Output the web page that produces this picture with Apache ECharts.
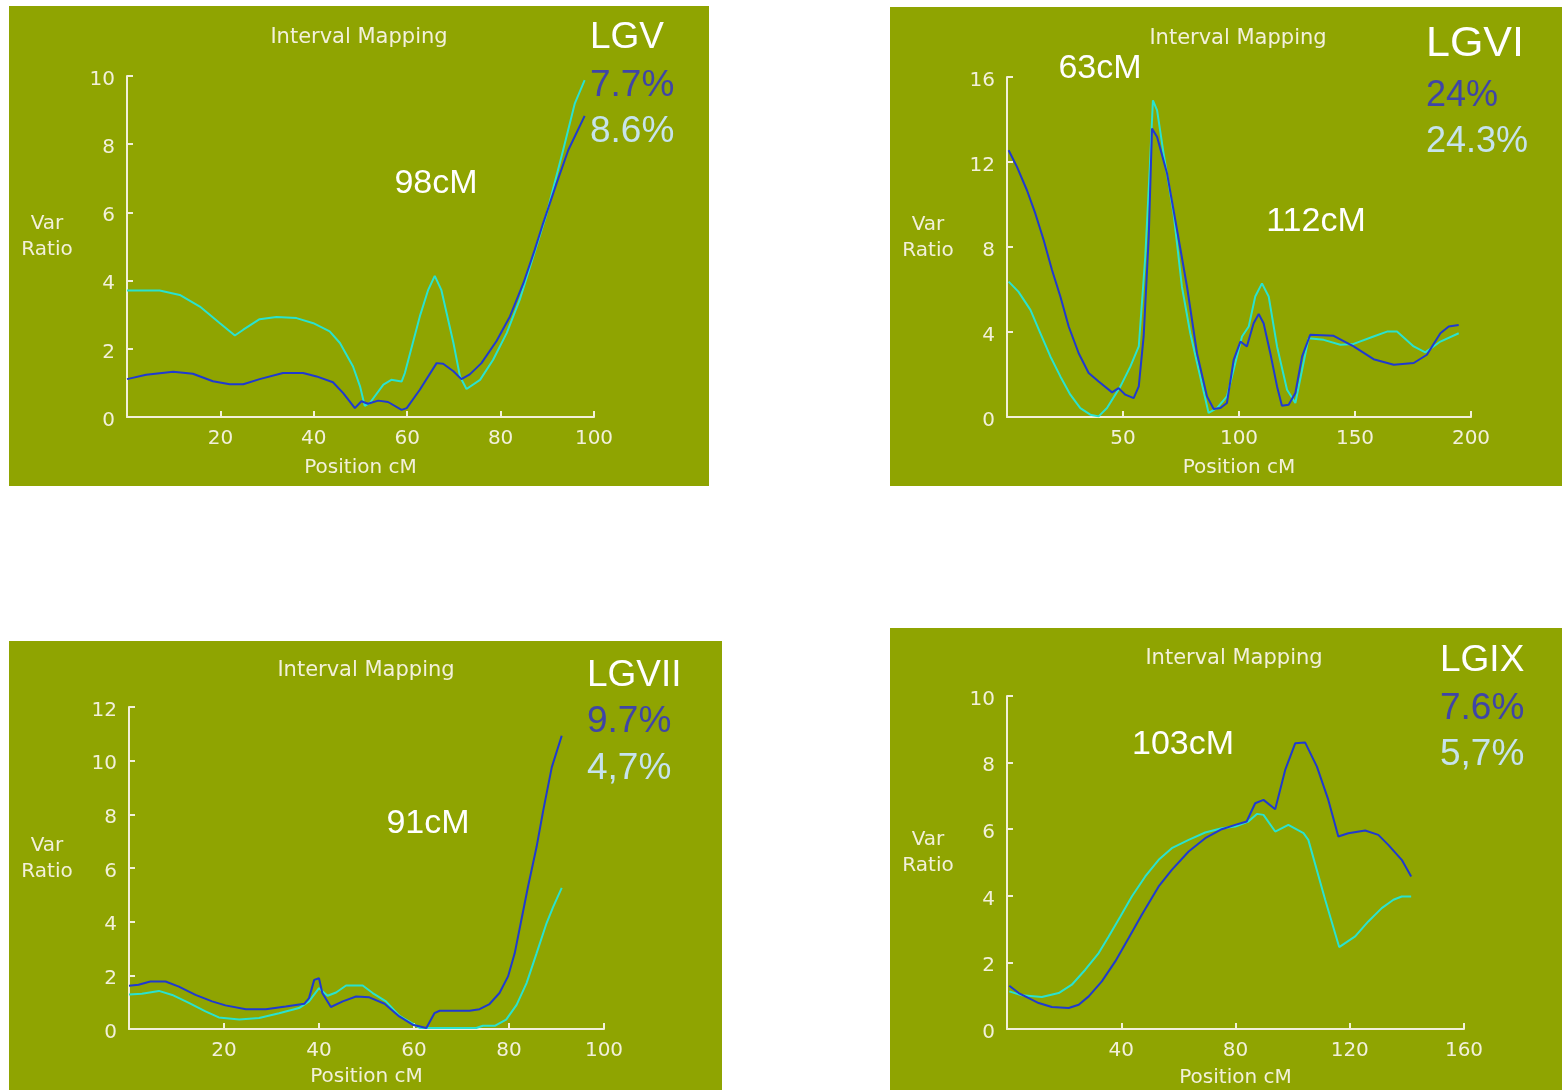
<!DOCTYPE html>
<html>
<head>
<meta charset="utf-8">
<script src="https://cdn.jsdelivr.net/npm/echarts@6/dist/echarts.min.js"></script>
<style>
  html, body { margin: 0; padding: 0; background: #ffffff; }
  #chart { width: 1562px; height: 1090px; }
</style>
</head>
<body>
<div id="chart"></div>
<script>
// Interval mapping scans for four linkage groups: [position cM, variance ratio]
const lgvBlue = [[0,1.11],[4.1,1.24],[9.9,1.33],[14.1,1.27],[18.4,1.05],[22,0.96],[24.9,0.96],[28.4,1.11],[33.4,1.29],[37.7,1.29],[40.6,1.19],[44.1,1.02],[46.3,0.70],[48.8,0.26],[50.2,0.46],[51.6,0.39],[53.8,0.48],[55.9,0.44],[58.8,0.21],[59.9,0.26],[62.7,0.80],[66.3,1.58],[67.7,1.56],[69.9,1.34],[71.6,1.11],[73.4,1.25],[75.9,1.58],[79.1,2.22],[82,2.95],[84.9,3.93],[87.3,4.90],[89.1,5.68],[92,6.86],[94.5,7.83],[98,8.83]];
const lgvCyan = [[0,3.71],[7,3.71],[11.3,3.58],[15.6,3.24],[19.9,2.75],[23.1,2.39],[24.9,2.56],[28.4,2.87],[32,2.93],[36.3,2.90],[39.9,2.75],[43.4,2.51],[45.6,2.17],[48.4,1.48],[49.9,0.90],[50.9,0.33],[52,0.41],[54.9,0.95],[56.6,1.09],[58.8,1.04],[59.5,1.29],[62.7,2.95],[64.5,3.73],[65.9,4.14],[67.3,3.73],[69.9,2.17],[71.3,1.19],[72.7,0.82],[75.6,1.09],[78.4,1.68],[81.3,2.46],[84.1,3.44],[87,4.71],[89.9,5.98],[93.4,7.83],[95.9,9.20],[98,9.88]];

const lgviBlue = [[0.7,12.55],[4.3,11.77],[8.6,10.67],[12.2,9.58],[15.8,8.33],[19.4,6.92],[23,5.67],[26.6,4.26],[30.9,3.00],[35.2,2.07],[39.5,1.67],[45.3,1.16],[48.1,1.36],[51,1.05],[54.6,0.89],[56.8,1.44],[58.9,3.79],[61.1,8.48],[62.5,13.57],[64.7,13.18],[69,11.46],[73.3,8.80],[77.6,6.13],[81.9,3.00],[86.2,0.97],[89.1,0.38],[92,0.42],[94.8,0.66],[97.7,2.69],[100.6,3.55],[103.4,3.32],[106.3,4.41],[108.5,4.85],[110.6,4.41],[113.5,3.00],[116.4,1.44],[118.5,0.53],[121.4,0.58],[124.3,1.13],[127.2,2.85],[130.7,3.87],[140.8,3.82],[149.4,3.32],[158,2.72],[166.7,2.46],[175.3,2.54],[181,2.93],[186.8,3.94],[190.4,4.26],[194.7,4.33]];
const lgviCyan = [[0.7,6.37],[4.9,5.90],[10.1,5.04],[14.4,3.94],[18.7,2.85],[23,1.91],[27.3,1.05],[31.6,0.42],[35.9,0.11],[39.5,0.03],[43.1,0.42],[48.9,1.44],[53.2,2.38],[56.8,3.32],[59.6,7.54],[61.5,11.61],[62.9,14.90],[64.7,14.43],[67.5,12.39],[71.8,9.58],[75.4,6.13],[79,3.94],[82.6,2.22],[86.9,0.19],[90.5,0.42],[94.8,0.97],[98.4,2.54],[101.3,3.79],[104.2,4.26],[107,5.67],[109.9,6.29],[112.8,5.67],[116.4,3.32],[120.7,1.28],[124.3,0.66],[127.2,2.22],[130,3.71],[136.5,3.63],[143.7,3.40],[149.4,3.44],[158,3.79],[163.8,4.02],[168.1,4.02],[175.3,3.32],[180.3,3.04],[186.8,3.55],[194.7,3.94]];

const lgviiBlue = [[0,1.61],[2,1.65],[4.5,1.77],[7.7,1.77],[10.5,1.58],[14,1.27],[17.5,1.03],[20.3,0.88],[24.6,0.74],[28.8,0.74],[33,0.84],[36.9,0.94],[37.9,1.15],[39,1.83],[40,1.89],[40.7,1.34],[42.5,0.82],[45,1.03],[47.8,1.21],[50.6,1.18],[53.8,0.94],[56.9,0.47],[59.7,0.16],[62.6,0.04],[64.3,0.59],[65.4,0.68],[71.7,0.68],[73.8,0.74],[75.9,0.93],[78,1.34],[79.8,1.96],[81.2,2.82],[82.6,4.06],[84,5.30],[85.8,6.78],[87.2,8.14],[89,9.75],[91.1,10.93]];
const lgviiCyan = [[0,1.29],[2.7,1.31],[6.3,1.42],[9.1,1.27],[12.6,0.97],[16.1,0.66],[18.9,0.43],[23.2,0.35],[27.4,0.41],[31.6,0.59],[35.8,0.78],[37.9,1.03],[40,1.52],[41.8,1.24],[43.6,1.36],[45.7,1.62],[49.2,1.62],[51.3,1.34],[54.1,1.03],[56.9,0.50],[59.7,0.20],[61.2,0.04],[73.1,0.04],[74.5,0.12],[77,0.12],[79.4,0.35],[81.6,0.90],[83.7,1.71],[85.8,2.82],[87.9,3.94],[89.3,4.55],[91.1,5.26]];

const lgixBlue = [[0.8,1.30],[4.1,1.08],[7.6,0.93],[11.1,0.78],[15.7,0.66],[21.6,0.63],[25.1,0.73],[28.6,0.98],[33.2,1.43],[37.9,2.03],[42.6,2.73],[47.2,3.43],[53.1,4.28],[57.7,4.78],[63.6,5.33],[69.4,5.73],[75.2,6.00],[79.9,6.13],[83.9,6.23],[86.9,6.78],[89.8,6.88],[93.9,6.60],[97.4,7.78],[100.9,8.58],[104.4,8.60],[108.5,7.88],[112.5,6.88],[116,5.78],[119.5,5.88],[125.4,5.96],[130,5.83],[133.5,5.53],[138.2,5.08],[141.5,4.58]];
const lgixCyan = [[0.8,1.13],[5.2,1.01],[12.2,0.96],[18.1,1.08],[22.7,1.33],[27.4,1.78],[32.1,2.28],[35.6,2.78],[39.7,3.38],[43.7,3.98],[48.4,4.58],[53.1,5.08],[57.7,5.43],[63.6,5.68],[69.4,5.90],[75.2,6.03],[79.9,6.08],[84.5,6.23],[87.5,6.46],[89.8,6.43],[93.9,5.93],[98.5,6.13],[103.8,5.88],[105.5,5.68],[111.4,3.88],[116.3,2.46],[121.9,2.78],[126.5,3.23],[131.2,3.63],[135.3,3.88],[138.2,3.98],[141.5,3.98]];

// Axis ranges per panel: [xMax, xStep, yMax, yStep]
const lgvAxes = [100, 20, 10, 2];
const lgviAxes = [200, 50, 16, 4];
const lgviiAxes = [100, 20, 12, 2];
const lgixAxes = [160, 40, 10, 2];

// Panel annotations
const panelTitle = 'Interval Mapping';
const yAxisTitle = 'Var\nRatio';
const xAxisTitle = 'Position cM';
const groupNames = ['LGV', 'LGVI', 'LGVII', 'LGIX'];
const blueShares = ['7.7%', '24%', '9.7%', '7.6%'];
const cyanShares = ['8.6%', '24.3%', '4,7%', '5,7%'];

const OLIVE = '#8fa401';
const AXIS = '#f2f0da';
const BLUE = '#1f3ad0';
const CYAN = '#2ae2cf';
const PCT_DARK = '#3f45a7';
const PCT_LIGHT = '#c6e3ec';
const TICK_FONT = 'DejaVu Sans';
const BIG_FONT = 'Liberation Sans';

// Panel frames and plot areas
const panels = [
  { bg: [9, 6, 700, 480],   grid: { left: 127, top: 76, width: 467, height: 341 },  axes: lgvAxes,  gapX: 51 },
  { bg: [890, 7, 672, 479], grid: { left: 1007, top: 77, width: 464, height: 340 }, axes: lgviAxes, gapX: 51 },
  { bg: [9, 641, 713, 449], grid: { left: 129, top: 707, width: 475, height: 322 }, axes: lgviiAxes, gapX: 48 },
  { bg: [890, 628, 672, 462], grid: { left: 1007, top: 696, width: 457, height: 333 }, axes: lgixAxes, gapX: 49 }
];
const seriesData = [[lgvBlue, lgvCyan], [lgviBlue, lgviCyan], [lgviiBlue, lgviiCyan], [lgixBlue, lgixCyan]];

const axisStyle = {
  axisLine: { show: true, onZero: false, lineStyle: { color: AXIS, width: 2 } },
  axisTick: { show: true, inside: true, length: 6, lineStyle: { color: AXIS, width: 2 } },
  splitLine: { show: false }
};

const grids = [], xAxes = [], yAxes = [], series = [];
panels.forEach((p, i) => {
  grids.push(Object.assign({ containLabel: false }, p.grid));
  const [xMax, xStep, yMax, yStep] = p.axes;
  xAxes.push(Object.assign({
    gridIndex: i, type: 'value', min: 0, max: xMax, interval: xStep,
    name: xAxisTitle, nameLocation: 'middle', nameGap: p.gapX,
    nameTextStyle: { color: AXIS, fontFamily: TICK_FONT, fontSize: 20, verticalAlign: 'middle' },
    axisLabel: { color: AXIS, fontFamily: TICK_FONT, fontSize: 20, margin: 12, showMinLabel: false }
  }, axisStyle));
  yAxes.push(Object.assign({
    gridIndex: i, type: 'value', min: 0, max: yMax, interval: yStep,
    // a short line box hung from the tick sets each number slightly below its tick
    axisLabel: { color: AXIS, fontFamily: TICK_FONT, fontSize: 20, margin: 12, verticalAlign: 'top', lineHeight: 7 }
  }, axisStyle));
  [BLUE, CYAN].forEach((c, k) => {
    series.push({
      type: 'line', xAxisIndex: i, yAxisIndex: i, data: seriesData[i][k],
      showSymbol: false, smooth: false, z: k === 0 ? 3 : 2,
      lineStyle: { color: c, width: 2 }, itemStyle: { color: c }
    });
  });
});

// Text placement per panel
const titlePos = [[359, 38], [1238, 39], [366, 671], [1234, 659]];
const yTitlePos = [[47, 237], [928, 238], [47, 859], [928, 853]];
const groupPos = [[590, 38, 37], [1426, 44, 43], [587, 676, 37], [1440, 661, 37]];
const sharePos = [[590, 86, 132, 37], [1426, 96, 142, 36], [587, 722, 769, 37], [1440, 709, 755, 37]];
const markerText = [['98cM', 436, 184], ['63cM', 1100, 69], ['112cM', 1316, 222], ['91cM', 428, 824], ['103cM', 1183, 745]];

const graphic = [];
panels.forEach((p, i) => {
  graphic.push({ type: 'rect', z: -10, shape: { x: p.bg[0], y: p.bg[1], width: p.bg[2], height: p.bg[3] }, style: { fill: OLIVE } });
  graphic.push({ type: 'text', x: titlePos[i][0], y: titlePos[i][1], style: { text: panelTitle, fill: AXIS, font: '21px "' + TICK_FONT + '"', textAlign: 'center', textVerticalAlign: 'middle' } });
  graphic.push({ type: 'text', x: yTitlePos[i][0], y: yTitlePos[i][1], style: { text: yAxisTitle, fill: AXIS, font: '20px "' + TICK_FONT + '"', lineHeight: 26, textAlign: 'center', textVerticalAlign: 'middle' } });
  graphic.push({ type: 'text', x: groupPos[i][0], y: groupPos[i][1], style: { text: groupNames[i], fill: '#ffffff', font: groupPos[i][2] + 'px "' + BIG_FONT + '"', textAlign: 'left', textVerticalAlign: 'middle' } });
  graphic.push({ type: 'text', x: sharePos[i][0], y: sharePos[i][1], style: { text: blueShares[i], fill: PCT_DARK, font: sharePos[i][3] + 'px "' + BIG_FONT + '"', textAlign: 'left', textVerticalAlign: 'middle' } });
  graphic.push({ type: 'text', x: sharePos[i][0], y: sharePos[i][2], style: { text: cyanShares[i], fill: PCT_LIGHT, font: sharePos[i][3] + 'px "' + BIG_FONT + '"', textAlign: 'left', textVerticalAlign: 'middle' } });
});
markerText.forEach(m => {
  graphic.push({ type: 'text', x: m[1], y: m[2], style: { text: m[0], fill: '#ffffff', font: '34px "' + BIG_FONT + '"', textAlign: 'center', textVerticalAlign: 'middle' } });
});

const chart = echarts.init(document.getElementById('chart'), null, { renderer: 'canvas' });
chart.setOption({
  backgroundColor: '#ffffff',
  animation: false,
  grid: grids,
  xAxis: xAxes,
  yAxis: yAxes,
  series: series,
  graphic: graphic
});
</script>
</body>
</html>
